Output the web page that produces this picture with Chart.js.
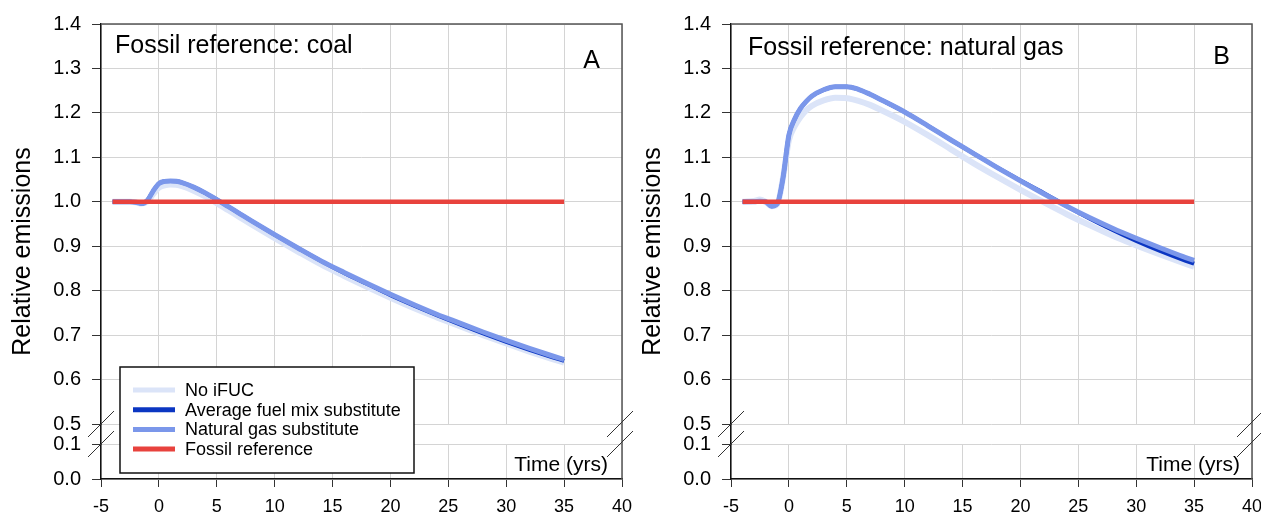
<!DOCTYPE html>
<html lang="en">
<head>
<meta charset="utf-8" />
<title>Relative emissions</title>
<script src="https://cdn.jsdelivr.net/npm/chart.js"></script>
<style>
  body { margin: 0; background: #fff; }
  #wrap { display: flex; width: 1261px; height: 512px; overflow: hidden; }
  canvas { display: block; flex: none; }
  #chartB { margin-left: -15px; }
</style>
</head>
<body>
<div id="wrap">
  <canvas id="chartA" width="645" height="512"></canvas>
  <canvas id="chartB" width="631" height="512"></canvas>
</div>
<script>
// time axis (yrs), same grid for both panels
const years = [-4, -3, -2.5, -2, -1.5, -1, -0.5, 0, 0.5, 1, 1.5, 2, 3, 4, 5, 6, 7, 8, 10, 12, 14, 16, 18, 20, 22, 24, 26, 28, 30, 32, 34, 35];

// panel A - fossil reference: coal
const coalNoIfuc = [1.000, 1.000, 1.000, 0.999, 0.996, 1.000, 1.017, 1.032, 1.037, 1.039, 1.038, 1.035, 1.025, 1.012, 0.997, 0.981, 0.965, 0.949, 0.918, 0.888, 0.859, 0.833, 0.808, 0.784, 0.761, 0.740, 0.720, 0.700, 0.681, 0.663, 0.646, 0.638];
const coalAvgMix = [1.000, 1.000, 1.000, 0.999, 0.996, 1.003, 1.024, 1.041, 1.046, 1.047, 1.046, 1.043, 1.033, 1.020, 1.005, 0.989, 0.973, 0.957, 0.926, 0.896, 0.867, 0.840, 0.815, 0.790, 0.767, 0.745, 0.724, 0.704, 0.685, 0.667, 0.650, 0.642];
const coalNatGas = [1.000, 1.000, 1.000, 0.999, 0.996, 1.003, 1.024, 1.041, 1.046, 1.047, 1.046, 1.043, 1.033, 1.020, 1.005, 0.989, 0.973, 0.957, 0.926, 0.896, 0.867, 0.841, 0.816, 0.792, 0.769, 0.747, 0.727, 0.707, 0.688, 0.670, 0.653, 0.645];

// panel B - fossil reference: natural gas
const gasNoIfuc = [1.000, 1.002, 1.005, 1.000, 0.990, 0.995, 1.055, 1.138, 1.170, 1.191, 1.206, 1.216, 1.228, 1.234, 1.233, 1.227, 1.218, 1.206, 1.180, 1.150, 1.118, 1.086, 1.056, 1.027, 0.999, 0.972, 0.947, 0.923, 0.902, 0.882, 0.863, 0.854];
const gasAvgMix = [1.000, 1.000, 1.001, 1.000, 0.990, 0.996, 1.055, 1.150, 1.186, 1.210, 1.226, 1.238, 1.252, 1.259, 1.259, 1.253, 1.242, 1.229, 1.202, 1.171, 1.139, 1.108, 1.077, 1.048, 1.020, 0.990, 0.962, 0.936, 0.912, 0.890, 0.870, 0.861];
const gasNatGas = [1.000, 1.000, 1.001, 1.000, 0.990, 0.996, 1.055, 1.150, 1.186, 1.210, 1.226, 1.238, 1.252, 1.259, 1.259, 1.253, 1.242, 1.229, 1.202, 1.171, 1.139, 1.108, 1.077, 1.047, 1.018, 0.990, 0.964, 0.940, 0.918, 0.897, 0.877, 0.868];

// fossil reference line (both panels)
const refYears = [-4, 35];
const refValues = [1.0, 1.0];

const seriesNames = ['No iFUC', 'Average fuel mix substitute', 'Natural gas substitute', 'Fossil reference'];
const seriesColors = ['#dbe4f8', '#0b36c2', '#7b97ea', '#e8423d'];

Chart.defaults.font.family = '"Liberation Sans", Arial, sans-serif';
Chart.defaults.color = '#000';

function pts(xs, ys) {
    return xs.map((x, i) => ({ x: x, y: ys[i] }));
}

// mask the axis break, frame, texts, break marks and legend
const panelDecor = {
    id: 'panelDecor',
    beforeDatasetsDraw(chart) {
        const { ctx, chartArea: a, scales } = chart;
        const p05 = scales.y.getPixelForValue(0.5);
        const p01 = scales.y2.getPixelForValue(0.1);
        ctx.save();
        ctx.fillStyle = '#fff';
        ctx.fillRect(a.left + 1, p05 + 1, a.right - a.left - 2, p01 - p05 - 1);
        ctx.strokeStyle = '#555';
        ctx.lineWidth = 1.5;
        ctx.beginPath();
        ctx.moveTo(a.left, a.top);
        ctx.lineTo(a.right, a.top);
        ctx.lineTo(a.right, a.bottom);
        ctx.stroke();
        ctx.restore();
    },
    afterDraw(chart, args, o) {
        const { ctx, chartArea: a, scales } = chart;
        const p05 = scales.y.getPixelForValue(0.5);
        const p01 = scales.y2.getPixelForValue(0.1);
        ctx.save();
        ctx.fillStyle = '#000';

        // y axis title
        ctx.save();
        ctx.translate(30, (a.top + a.bottom) / 2);
        ctx.rotate(-Math.PI / 2);
        ctx.font = '25px "Liberation Sans", Arial, sans-serif';
        ctx.textAlign = 'center';
        ctx.textBaseline = 'alphabetic';
        ctx.fillText('Relative emissions', 0, 0);
        ctx.restore();

        // panel title and letter
        ctx.font = '25px "Liberation Sans", Arial, sans-serif';
        ctx.textBaseline = 'alphabetic';
        ctx.textAlign = 'left';
        ctx.fillText(o.title, a.left + o.titleDx, o.titleY);
        ctx.textAlign = 'right';
        ctx.fillText(o.letter, a.right - 22, o.letterY);

        // x axis title inside the plot
        ctx.font = '21px "Liberation Sans", Arial, sans-serif';
        ctx.fillText('Time (yrs)', a.right - o.timeDx, 471);

        // break marks
        ctx.strokeStyle = '#333';
        ctx.lineWidth = 1;
        [a.left, a.right - 2].forEach(cx => {
            [p05, p01].forEach(cy => {
                ctx.beginPath();
                ctx.moveTo(cx - 13, cy + 13);
                ctx.lineTo(cx + 13, cy - 13);
                ctx.stroke();
            });
        });

        // legend box
        if (o.legend) {
            const lx = 120, ly = 367, lw = 294, lh = 106;
            ctx.fillStyle = '#fff';
            ctx.fillRect(lx, ly, lw, lh);
            ctx.strokeStyle = '#111';
            ctx.lineWidth = 1.5;
            ctx.strokeRect(lx, ly, lw, lh);
            ctx.font = '18px "Liberation Sans", Arial, sans-serif';
            ctx.textAlign = 'left';
            ctx.textBaseline = 'middle';
            seriesNames.forEach((name, i) => {
                const y = 390 + i * 19.7;
                ctx.strokeStyle = seriesColors[i];
                ctx.lineWidth = 5;
                ctx.beginPath();
                ctx.moveTo(133, y);
                ctx.lineTo(175, y);
                ctx.stroke();
                ctx.fillStyle = '#000';
                ctx.fillText(name, 185, y + 1);
            });
        }
        ctx.restore();
    }
};

function makePanel(id, padRight, noIfuc, avgMix, natGas, decor) {
    const setW = s => { s.width = 101; };
    return new Chart(document.getElementById(id), {
        type: 'line',
        data: {
            datasets: [
                { label: seriesNames[0], data: pts(years, noIfuc), borderColor: seriesColors[0], borderWidth: 6, order: 3 },
                { label: seriesNames[1], data: pts(years, avgMix), borderColor: seriesColors[1], borderWidth: 4, order: 2 },
                { label: seriesNames[2], data: pts(years, natGas), borderColor: seriesColors[2], borderWidth: 5, order: 1 },
                { label: seriesNames[3], data: pts(refYears, refValues), borderColor: seriesColors[3], borderWidth: 4.5, order: 0 }
            ]
        },
        options: {
            responsive: false,
            animation: false,
            devicePixelRatio: 1,
            layout: { padding: { top: 24, right: padRight, bottom: 0, left: 0 } },
            elements: {
                point: { radius: 0 },
                line: { cubicInterpolationMode: 'monotone', fill: false }
            },
            plugins: {
                legend: { display: false },
                tooltip: { enabled: false },
                panelDecor: decor
            },
            scales: {
                x: {
                    type: 'linear', min: -5, max: 40,
                    afterFit: s => { s.height = 33; s.paddingLeft = 0; s.paddingRight = 0; },
                    ticks: { stepSize: 5, autoSkip: false, maxRotation: 0, padding: 9, font: { size: 18 } },
                    grid: { color: '#d4d4d4', tickColor: '#333', tickLength: 8 },
                    border: { color: '#111', width: 1.5 }
                },
                y: {
                    type: 'linear', position: 'left', stack: 'v', stackWeight: 400, weight: 3,
                    min: 0.5, max: 1.4, afterFit: setW,
                    ticks: { stepSize: 0.1, autoSkip: false, padding: 11, font: { size: 20 }, callback: v => v.toFixed(1) },
                    grid: { color: '#d4d4d4', tickColor: '#333', tickLength: 9 },
                    border: { color: '#111', width: 1.5 }
                },
                yGap: {
                    type: 'linear', position: 'left', stack: 'v', stackWeight: 20, weight: 2,
                    min: 0.1, max: 0.5, afterFit: setW,
                    ticks: { display: false },
                    grid: { display: false },
                    border: { display: true, color: '#111', width: 1.5 }
                },
                y2: {
                    type: 'linear', position: 'left', stack: 'v', stackWeight: 35, weight: 1,
                    min: 0, max: 0.1, afterFit: setW,
                    ticks: { stepSize: 0.1, autoSkip: false, padding: 11, font: { size: 20 }, callback: v => v.toFixed(1) },
                    grid: { color: '#d4d4d4', tickColor: '#333', tickLength: 9 },
                    border: { color: '#111', width: 1.5 }
                }
            }
        },
        plugins: [panelDecor]
    });
}

makePanel('chartA', 23, coalNoIfuc, coalAvgMix, coalNatGas,
    { title: 'Fossil reference: coal', titleDx: 14, titleY: 53, letter: 'A', letterY: 68, timeDx: 14, legend: true });
makePanel('chartB', 9, gasNoIfuc, gasAvgMix, gasNatGas,
    { title: 'Fossil reference: natural gas', titleDx: 17, titleY: 55, letter: 'B', letterY: 64, timeDx: 12, legend: false });
</script>
</body>
</html>
